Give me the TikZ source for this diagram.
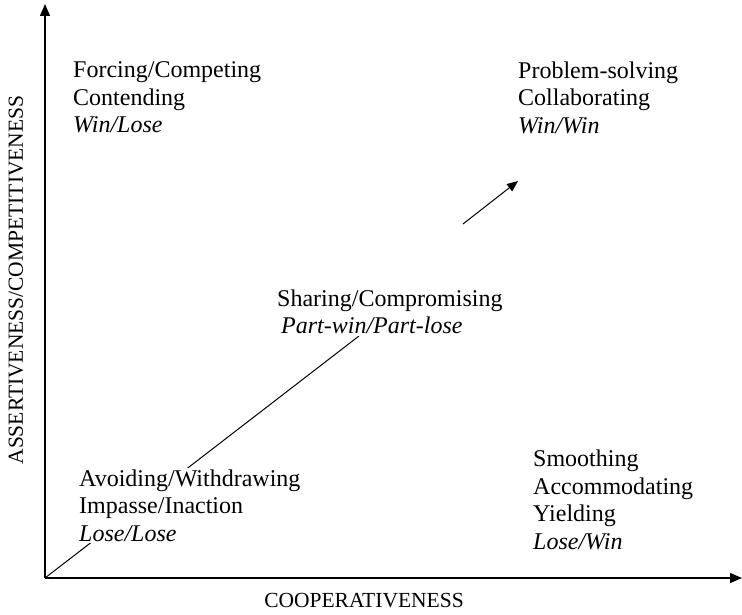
\documentclass[tikz,border=0pt]{standalone}
\usepackage{fontspec}
\setmainfont{Liberation Serif}
\usetikzlibrary{arrows.meta}
\tikzset{
  axis/.style={line width=1.1pt, -{Triangle[length=12pt,width=10pt]}},
  diag/.style={line width=1pt},
  lbl/.style={inner sep=2pt, fill=white, anchor=west, align=left, font=\fontsize{24}{27.5}\selectfont},
  axlbl/.style={inner sep=0pt, font=\fontsize{21.5}{24}\selectfont}
}
\begin{document}
\begin{tikzpicture}[x=1pt,y=-1pt]
\useasboundingbox (0,0) rectangle (742,615);
% axes
\coordinate (O) at (45,578);
\coordinate (ytop) at (45,4);
\coordinate (xend) at (742,578);
\draw[axis] (O) -- (ytop);
\draw[axis] (O) -- (xend);
% diagonal path, drawn first so the labels mask it
\coordinate (dend) at (359,336);
\coordinate (astart) at (463,224);
\coordinate (aend) at (518,181);
\draw[diag] (O) -- (dend);
\draw[diag, -{Triangle[length=11pt,width=9pt]}] (astart) -- (aend);
% axis labels
\node[axlbl, rotate=90] (ylab) at (16,280) {ASSERTIVENESS/COMPETITIVENESS};
\node[axlbl] (xlab) at (364,601) {COOPERATIVENESS};
% quadrant texts
\node[lbl] (forcing) at (71,97.5) {Forcing/Competing\\Contending\\\textit{Win/Lose}};
\node[lbl] (problem) at (516,97.5) {Problem-solving\\Collaborating\\\textit{Win/Win}};
\node[lbl] (sharing) at (275,312) {Sharing/Compromising\\\hspace*{4pt}\textit{Part-win/Part-lose}};
\node[lbl] (avoiding) at (77,505.5) {Avoiding/Withdrawing\\Impasse/Inaction\\\textit{Lose/Lose}};
\node[lbl] (smoothing) at (531,500) {Smoothing\\Accommodating\\Yielding\\\textit{Lose/Win}};
\end{tikzpicture}
\end{document}
